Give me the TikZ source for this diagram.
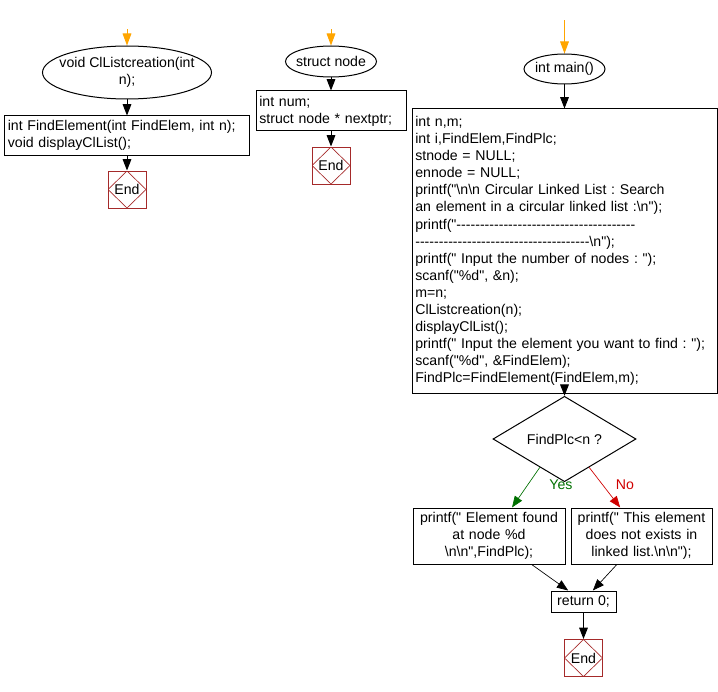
\documentclass[tikz,border=0pt]{standalone}
\usepackage{fontspec}
\newfontfamily\flowfont{Liberation Sans}
\usetikzlibrary{shapes.geometric,arrows.meta}
\definecolor{endred}{HTML}{A52A2A}
\definecolor{startorange}{HTML}{FFA500}
\definecolor{yesgreen}{HTML}{007000}
\definecolor{nored}{HTML}{D00000}
\begin{document}
\begin{tikzpicture}[x=0.75pt,y=-0.75pt,line width=0.75pt,
  every node/.style={font=\flowfont\fontsize{10.6}{12.8}\selectfont\frenchspacing},
  term/.style={draw,ellipse,inner sep=-15pt,align=center},
  proc/.style={draw,align=left,inner xsep=2.5pt,inner ysep=0pt},
  outbox/.style={draw,align=center,inner xsep=2pt,inner ysep=0pt,minimum height=42pt},
  decide/.style={draw,diamond,inner sep=0pt,minimum width=107.25pt,minimum height=33pt},
  endsym/.style={draw=endred,minimum width=28.5pt,minimum height=27.75pt,inner sep=0pt,
    path picture={\draw[endred,line width=0.5pt] (path picture bounding box.north)
      -- (path picture bounding box.east) -- (path picture bounding box.south)
      -- (path picture bounding box.west) -- cycle;}},
  flow/.style={-{Triangle[length=8.5pt,width=6.5pt]}},
  entry/.style={draw=startorange,-{Triangle[length=9pt,width=6.5pt,fill=startorange]}}]
\useasboundingbox (0,0) rectangle (718,692);

% ClListcreation
\node[term,minimum width=126.75pt,minimum height=39.75pt] (ell1) at (127,72.5) {void ClListcreation(int\\ n);};
\node[proc,text width=178.75pt,minimum height=29.25pt] (box1) at (127,135.5) {int FindElement(int FindElem, int n);\\ void displayClList();};
\node[endsym] (end1) at (127,189.5) {End};
\coordinate (in1) at ([yshift=12pt]ell1.north);
\draw[entry] (in1) -- (ell1.north);
\draw[flow] (ell1.south) -- (box1.north);
\draw[flow] (box1.south) -- (end1.north);

% struct node
\node[term,minimum width=68.25pt,minimum height=23.25pt] (ell2) at (331,61.5) {struct node};
\node[proc,text width=107.5pt,minimum height=30pt] (box2) at (331,111) {int num;\\ struct node * nextptr;};
\node[endsym] (end2) at (331,165.5) {End};
\coordinate (in2) at ([yshift=12pt]ell2.north);
\draw[entry] (in2) -- (ell2.north);
\draw[flow] (ell2.south) -- (box2.north);
\draw[flow] (box2.south) -- (end2.north);

% main
\node[term,minimum width=60.75pt,minimum height=22.5pt] (ell3) at (564.5,69) {int main()};
\node[proc,text width=223.75pt,minimum height=213pt] (box3) at (564.5,251) {int n,m;\\
int i,FindElem,FindPlc;\\
stnode = NULL;\\
ennode = NULL;\\
printf("\textbackslash n\textbackslash n Circular Linked List : Search\\
an element in a circular linked list :\textbackslash n");\\
printf("--------------------------------------\\
-------------------------------------\textbackslash n");\\
printf(" Input the number of nodes : ");\\
scanf("\%d", \&n);\\
m=n;\\
ClListcreation(n);\\
displayClList();\\
printf(" Input the element you want to find : ");\\
scanf("\%d", \&FindElem);\\
FindPlc=FindElement(FindElem,m);};
\node[decide] (dec) at (564.5,439) {FindPlc<n ?};
\node[outbox,text width=110pt] (yesbox) at (489,536) {printf(" Element found\\ at node \%d\\ \textbackslash n\textbackslash n",FindPlc);};
\node[outbox,text width=101.75pt] (nobox) at (641.5,536) {printf(" This element\\ does not exists in\\ linked list.\textbackslash n\textbackslash n");};
\node[draw,inner sep=0pt,minimum width=48.75pt,minimum height=15.75pt] (ret) at (583.5,601.5) {return 0;};
\node[endsym] (end3) at (583.5,658) {End};
\node[yesgreen] (yeslbl) at (561,485) {Yes};
\node[nored] (nolbl) at (625,485) {No};

\coordinate (in3) at ([yshift=24.75pt]ell3.north);
\draw[entry] (in3) -- (ell3.north);
\draw[flow] (ell3.south) -- (box3.north);
\draw[flow] (box3.south) -- (dec.north);
\draw[flow,yesgreen,line width=0.5pt] (dec.-131) -- ([xshift=17.25pt]yesbox.north);
\draw[flow,nored,line width=0.5pt] (dec.-49) -- ([xshift=-16pt]nobox.north);
\draw[flow,line width=0.5pt] ([xshift=32pt]yesbox.south) -- ([xshift=-11.5pt]ret.north);
\draw[flow,line width=0.5pt] ([xshift=-18.5pt]nobox.south) -- ([xshift=7pt]ret.north);
\draw[flow] (ret.south) -- (end3.north);
\end{tikzpicture}
\end{document}
